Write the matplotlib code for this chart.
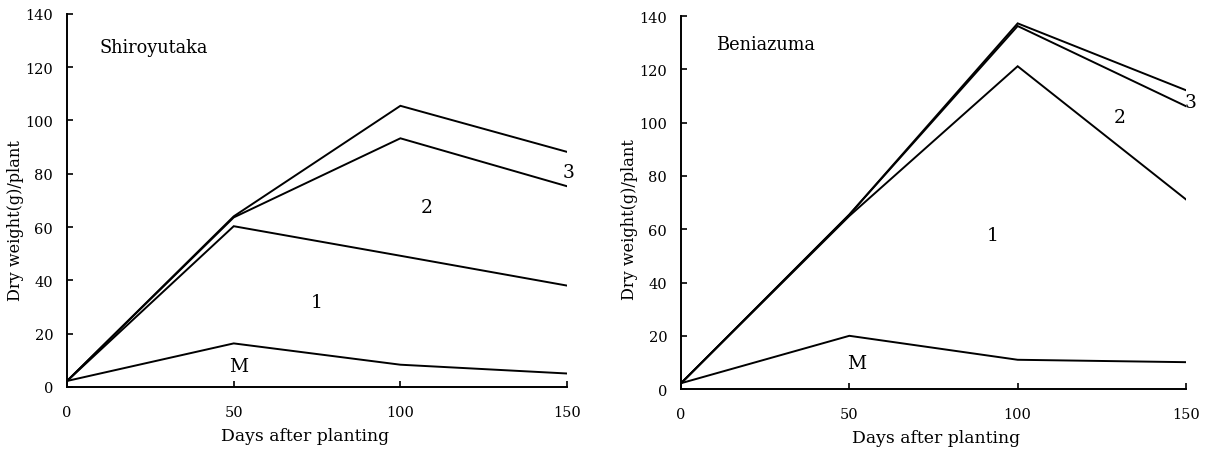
import matplotlib
matplotlib.use('Agg')
import matplotlib.pyplot as plt

plt.rcParams['font.family'] = ['DejaVu Serif']

days = [0, 50, 100, 150]

# Shiroyutaka
shiro_m = [2.2, 16.3, 8.3, 5.0]
shiro_1 = [2.2, 60.3, 49.2, 38.0]
shiro_2 = [2.2, 63.6, 93.3, 75.3]
shiro_3 = [2.2, 64.0, 105.5, 88.2]

# Beniazuma
beni_m = [2.2, 20.0, 11.0, 10.1]
beni_1 = [2.2, 65.0, 121.2, 71.2]
beni_2 = [2.2, 65.5, 136.3, 106.2]
beni_3 = [2.2, 65.5, 137.3, 112.2]

yticks = [0, 20, 40, 60, 80, 100, 120, 140]
xticks = [0, 50, 100, 150]


def panel(ax, series, name, name_xy, labels, xlab_x, ylab_y):
    for s in series:
        ax.plot(days, s, color='black', lw=1.4, solid_joinstyle='miter')
    ax.set_xlim(0, 150)
    ax.set_ylim(0, 140)
    ax.set_xticks(xticks)
    ax.set_yticks(yticks)
    ax.spines['top'].set_visible(False)
    ax.spines['right'].set_visible(False)
    ax.spines['left'].set_linewidth(1.4)
    ax.spines['bottom'].set_linewidth(1.4)
    ax.tick_params(direction='in', length=4, width=1.2, labelsize=10.5)
    ax.tick_params(axis='y', pad=10)
    ax.tick_params(axis='x', pad=13)
    ax.set_xlabel('Days after planting', fontsize=12.4)
    ax.set_ylabel('Dry weight(g)/plant', fontsize=11.6)
    ax.xaxis.set_label_coords(xlab_x, -0.108)
    ax.yaxis.set_label_coords(-0.086, ylab_y)
    ax.text(name_xy[0], name_xy[1], name, fontsize=12.8, va='center', ha='left')
    for txt, (x, y) in labels:
        ax.text(x, y, txt, fontsize=13.5, ha='center', va='center')


fig = plt.figure(figsize=(12.06, 4.52), dpi=100)
ax1 = fig.add_axes([0.0556, 0.142, 0.4146, 0.825])
ax2 = fig.add_axes([0.5647, 0.137, 0.4187, 0.825])

panel(ax1, [shiro_m, shiro_1, shiro_2, shiro_3], 'Shiroyutaka', (9.6, 127.5),
      [('M', (51.6, 8.0)), ('1', (74.9, 32.0)), ('2', (108.0, 67.5)), ('3', (150.6, 80.7))],
      0.476, 0.448)
panel(ax2, [beni_m, beni_1, beni_2, beni_3], 'Beniazuma', (10.4, 129.4),
      [('M', (52.3, 9.7)), ('1', (92.7, 57.7)), ('2', (130.4, 102.0)), ('3', (151.5, 107.6))],
      0.506, 0.456)

for ax in (ax1, ax2):
    for t in ax.texts:
        t.set_clip_on(False)

fig.savefig('out.png', dpi=100, facecolor='white')
